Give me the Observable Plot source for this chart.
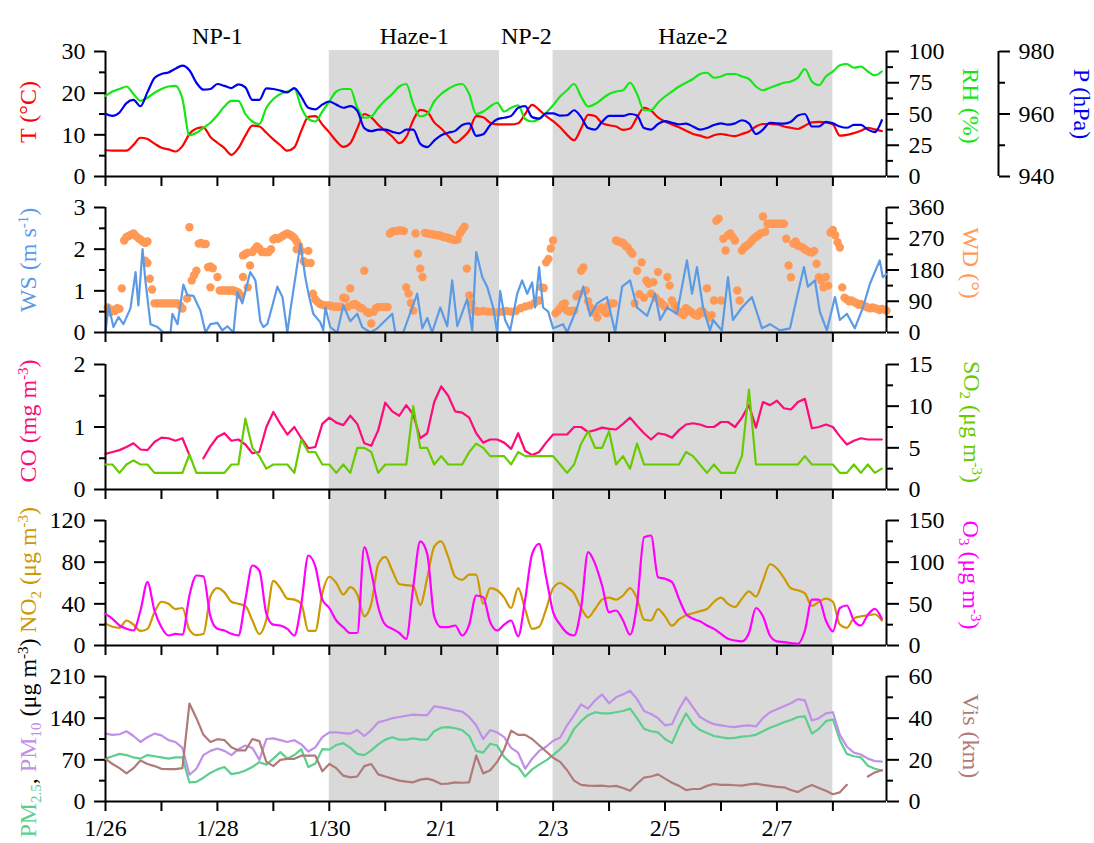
<!DOCTYPE html>
<html>
<head>
<meta charset="utf-8">
<script src="https://cdn.jsdelivr.net/npm/d3@7"></script>
<script src="https://cdn.jsdelivr.net/npm/@observablehq/plot@0.6"></script>
<style>
  body { margin: 0; background: #fff; }
  #chart { position: relative; width: 1094px; height: 843px; overflow: hidden; font-family: "Liberation Serif", "Times New Roman", serif; }
  #chart svg { position: absolute; left: 0; top: 0; }
  .ttl { position: absolute; font-size: 24px; white-space: nowrap; line-height: 1; }
  .ttl sub { font-size: 15px; vertical-align: -0.3em; line-height: 0; }
  .ttl sup { font-size: 15px; vertical-align: 0.55em; line-height: 0; }
</style>
</head>
<body>
<div id="chart"></div>
<script>
// ---------------- DATA ----------------
// sample times: every 3 h from 1/26 00:00 (hour offsets)
const hours = d3.range(0, 336, 3);

const dayLabels = ["1/26","1/27","1/28","1/29","1/30","1/31","2/1","2/2","2/3","2/4","2/5","2/6","2/7","2/8"];
const xTickLabels = ["1/26","1/28","1/30","2/1","2/3","2/5","2/7"];

const periodNames = ["NP-1", "Haze-1", "NP-2", "Haze-2"];
const periodStartHour = [0, 96, 169, 192];
const periodEndHour = [96, 169, 192, 312];

const T = [
6.3, 6.2, 6.2, 6.2, 7.6, 9.3, 9.0, 7.9,
6.9, 6.5, 6.0, 7.3, 10.2, 11.5, 11.8, 9.5,
8.1, 6.8, 5.2, 6.8, 9.8, 12.2, 12.0, 10.5,
8.9, 7.5, 6.2, 7.0, 11.0, 14.3, 14.5, 12.5,
10.6, 8.5, 7.1, 8.0, 11.5, 15.0, 14.2, 12.4,
11.0, 9.6, 8.0, 9.5, 13.5, 16.0, 15.5, 13.0,
11.5, 9.7, 8.1, 9.2, 11.0, 14.5, 14.2, 12.9,
12.5, 12.5, 12.5, 12.8, 15.0, 17.2, 16.0, 14.5,
13.3, 11.8, 10.0, 8.7, 11.5, 14.8, 14.5, 12.8,
12.3, 12.0, 11.2, 11.5, 14.2, 16.5, 15.8, 14.2,
13.2, 12.5, 11.8, 11.0, 10.2, 9.8, 9.3, 9.9,
10.2, 9.9, 9.7, 10.2, 10.8, 12.0, 12.6, 12.6,
12.5, 12.0, 11.7, 11.4, 12.2, 13.0, 13.1, 13.0,
12.5, 9.8, 10.0, 10.4, 11.0, 11.7, 11.3, 10.9];

const RH = [
64.5, 68, 70, 72, 66, 60.5, 63, 67,
70, 72, 72.5, 62, 33, 35, 39, 43,
49, 56, 60.5, 60.5, 50, 44, 42, 55,
62, 66, 68, 70, 55, 46, 44, 52,
60, 68, 70, 70, 55, 47, 48, 55,
61, 66, 72, 74, 58, 48, 50, 60,
66, 70, 73, 74, 66, 50, 52, 56,
59, 52, 55, 57, 46, 44, 46, 51,
57, 64, 69, 74, 64, 56, 58, 62,
66, 68, 69, 75, 66, 53, 53, 59,
64, 68, 72, 75, 78, 82, 83, 79,
80, 82, 82, 80, 78, 72, 69, 71,
73, 75, 76, 79, 86, 76, 73, 80,
84, 89, 90, 87, 88, 84, 81, 84];

const P = [
960.1, 959.4, 960.5, 963.5, 964.5, 962.5, 967, 971.5,
972.8, 973.3, 974.5, 975.5, 974, 970, 967.8, 968,
969.6, 969, 968.3, 969.5, 968.5, 964.5, 964.5, 968.2,
968, 967.5, 966.9, 968.3, 965.5, 962, 961.5, 963,
964, 963, 962, 962.5, 961, 955.5, 954.5, 955,
955, 954.3, 953.8, 955, 955, 950.5, 949.4, 951.5,
953.2, 954, 954.6, 956.5, 957, 953, 953.5, 956.5,
958.3, 958.8, 959.4, 962, 962.5, 959, 958.5, 960.2,
960.2, 959.5, 959.6, 961.2, 959, 955.5, 955, 957.5,
959.4, 959.4, 959.4, 960, 959.5, 955.5, 955, 956.8,
957.7, 957.2, 956.7, 956.9, 956, 955, 955.5, 956.5,
957, 956.6, 957, 958, 957, 953.6, 955, 957.2,
957, 956.9, 957.5, 959.5, 960, 956, 956, 957.5,
957, 956, 955.6, 956.5, 956.5, 955, 954.2, 958];

// wind speed readings (hour offset, m/s)
const wsHour = [0,1.3,3.4,5.6,7.7,10.7,12.9,14.1,15.9,17.1,
19.3,22.3,24.9,27.9,28.7,30.9,33.4,35.1,37.7,40.7,
42.9,45,48,50.1,52.3,54.9,56.6,58.7,62.1,64.3,
66.4,67.7,69.4,71.6,73.7,75.9,78,79.3,83.6,85.7,
87,89.1,92.1,93.4,94.3,96.4,99.4,102,105,108,
110.1,113.6,116.6,123,124.3,127.7,133.7,135.9,138,140.1,
143.6,146.6,148.7,150.9,155.1,157.3,159,161.6,163.7,166.3,
168,169.3,171.4,173.6,176.6,178.7,180.9,183,184.3,186,
187.7,189.9,192,196.3,198,202.3,204.9,207.9,210.9,215.1,
218.6,221.6,225,228,232.3,235.7,237.9,240.9,245.1,249.4,
251.6,253.7,256.3,259.3,260.6,264.4,267,269.1,273,277.3,
281.6,285,289.3,293.6,296.6,299.6,301.3,304.3,306.4,309.4,
312.9,315,318,321.4,324.9,327.9,332.1,333.4,335];
const wsVal = [0,0.65,0.13,0.37,0.2,0.58,1.45,0.65,2.0,1.25,
0.2,0.13,0,0,0.45,0.2,1.15,0.9,0.88,0.53,
0,0.2,0.23,0.05,0.15,0,0.97,0.7,1.45,1.25,
0.27,0.13,0.2,0.65,1.1,0.85,0,0.53,2.13,1.33,
0.95,0.45,0.25,0.05,0.6,0.13,0,0.65,0.27,0.45,
0.13,0,0.1,0.45,0,0,0.93,0.1,0.35,0,
0.6,0.15,1.25,0.15,0.8,0.05,1.93,1.33,1.1,0.6,
0,1.0,0.3,0.05,0.93,1.25,0.93,1.2,0.6,1.57,
0.6,0.5,0.1,0.2,0,0.6,1.1,0.4,0.7,0.85,
0,1.1,1.25,0.6,0.4,0.93,0.3,0.6,0.45,1.73,
0.93,1.57,0.6,0.05,0.3,0.05,1.33,0.3,0.6,0.85,
0.1,0.2,0.05,0.1,0.85,1.57,1.1,1.25,0.5,0.05,
0.85,0.3,0.45,0.1,0.6,1.17,1.73,1.33,1.4];

// wind direction points (hour offset, degrees)
const wdHour = [1,2,3,4,5,6,7,8,9,10,11,12,13,14,15,16,17,17,18,18,19,20,
21,22,23,24,25,26,27,28,29,30,31,32,33,35,36,37,38,39,40,41,42,43,44,45,45,46,48,
49,50,51,52,53,54,55,56,57,58,59,59,60,61,61,62,63,64,65,66,67,68,69,70,71,72,73,74,75,76,77,78,79,80,81,82,82,83,84,85,86,87,88,
89,90,91,92,93,94,95,96,97,98,99,100,101,102,103,104,105,106,107,108,109,110,111,112,113,114,115,116,117,118,119,120,121,
122,123,124,125,126,127,128,129,130,131,132,133,134,135,136,137,138,139,140,141,142,143,144,145,146,147,148,149,150,151,152,153,154,155,156,157,158,
159,160,162,164,166,168,170,172,174,176,178,180,182,184,186,187,188,189,190,191,192,
193,194,195,196,197,198,199,200,201,202,203,204,205,206,207,208,209,210,211,212,213,214,215,216,217,218,
219,220,221,222,223,224,225,226,227,228,229,230,231,232,233,234,235,236,237,238,239,240,241,242,243,244,245,246,247,248,249,250,251,252,253,254,255,256,257,258,259,260,261,262,263,264,265,266,267,268,269,270,271,272,273,274,275,276,277,278,279,280,281,282,283,284,285,286,287,288,289,290,291,292,293,294,295,296,297,298,299,300,301,302,303,304,305,306,307,308,309,310,311,312,313,314,315,316,317,318,319,320,321,322,323,324,325,326,327,328,329,330,331,332,333,334,335];
const wdDeg = [72,58,65,62,70,68,127,265,275,278,282,285,278,272,268,262,207,258,262,200,155,124,
84,84,84,84,84,84,84,84,84,84,84,78,69,98,303,150,165,178,256,258,255,255,188,190,130,185,160,
121,121,121,121,121,121,121,118,115,107,160,222,226,130,230,193,232,240,248,242,232,232,231,232,240,268,272,270,274,278,282,285,282,278,272,262,240,250,235,205,200,235,200,
112,95,88,82,80,78,78,78,76,74,74,74,74,100,98,74,127,80,82,78,72,70,178,60,56,26,60,70,73,73,73,73,73,
285,290,292,292,294,294,292,130,112,85,63,285,227,184,160,287,285,284,283,282,280,280,278,275,274,272,270,268,266,268,285,295,305,184,107,84,63,
62,60,62,60,60,58,60,62,60,62,70,75,78,85,92,130,128,202,212,242,265,
55,62,70,80,84,63,60,62,63,104,110,178,187,121,90,72,65,55,43,68,72,60,55,80,84,84,
265,262,260,258,250,245,235,227,84,178,110,202,100,150,140,112,145,100,174,88,80,75,160,135,92,80,65,60,55,50,70,65,60,55,50,48,60,63,55,127,43,50,92,322,328,92,270,236,280,285,275,265,121,92,236,245,250,255,262,270,275,280,285,334,290,313,313,313,313,313,313,313,313,270,193,159,256,262,250,248,245,240,235,232,230,235,198,159,150,130,160,135,288,295,280,260,245,130,100,95,90,92,88,85,80,82,78,75,72,70,72,70,68,65,68,66,63];

const CO = [
0.57, 0.6, 0.63, 0.68, 0.74, 0.64, 0.63, 0.76,
0.83, 0.82, 0.78, 0.82, 0.55, null, 0.5, 0.69,
0.84, 0.9, 0.78, 0.8, 0.72, 0.58, 0.6, 1.0,
1.24, 1.05, 0.88, 1.0, 0.82, 0.66, 0.68, 1.05,
1.15, 1.07, 1.03, 1.18, 1.05, 0.74, 0.7, 0.95,
1.39, 1.25, 1.18, 1.35, 1.2, 0.82, 0.9, 1.4,
1.65, 1.5, 1.25, 1.23, 1.15, 0.9, 0.75, 0.8,
0.8, 0.75, 0.65, 0.9, 0.62, 0.55, 0.6, 0.75,
0.88, 0.88, 0.88, 1.0, 1.0, 0.92, 0.95, 0.99,
0.97, 0.96, 1.05, 1.15, 1.02, 0.9, 0.8, 0.9,
0.88, 0.83, 0.95, 1.04, 1.06, 1.04, 1.0, 1.0,
1.08, 1.08, 1.0, 1.15, 1.35, 0.99, 1.4, 1.35,
1.42, 1.3, 1.28, 1.4, 1.45, 0.98, 1.0, 1.04,
1.0, 0.85, 0.72, 0.78, 0.82, 0.8, 0.8, 0.8];

const SO2 = [
3, 3, 2, 3, 3.5, 3, 3, 2,
2, 2, 2, 2, 4.2, 2, 2, 2,
2, 2, 3, 3, 8.5, 5, 4, 2.5,
3, 3, 3, 2, 6, 4.5, 4.5, 3,
3, 2, 3, 2, 5, 5, 4.5, 2,
3, 3, 3, 3, 10, 5, 5, 3,
4, 3, 3, 3, 4.5, 5.5, 5, 4,
4, 4, 3, 4.5, 4, 4, 4, 4,
4, 3, 2, 3, 5.5, 7, 5, 5,
7, 3, 4, 2.5, 5.5, 3, 3, 3,
3, 3, 3, 4.5, 4, 3, 2, 3,
2, 2, 2, 4, 12, 3, 3, 3,
3, 3, 3, 3, 4, 3, 3, 3,
3, 2, 2, 3, 2, 3, 2, 2.5];

const NO2 = [
21, 18, 17, 24, 20, 14, 16, 32,
42, 40, 35, 36, 15, 10, 11, 47,
55, 51, 42, 40, 38, 24, 11, 25,
62, 55, 45, 44, 40, 14, 14, 50,
66, 60, 49, 56, 49, 28, 40, 78,
85, 72, 59, 58, 57, 39, 65, 95,
100, 85, 66, 63, 68, 68, 40, 55,
53, 46, 36, 55, 35, 16, 18, 35,
55, 60, 56, 50, 36, 27, 35, 44,
46, 44, 48, 55, 45, 25, 24, 35,
28, 19, 25, 29, 31, 33, 35, 42,
46, 40, 37, 45, 52, 47, 62, 78,
74, 65, 55, 53, 50, 38, 42, 45,
42, 20, 17, 26, 28, 29, 30, 24];

const O3 = [
38, 32, 24, 20, 18, 42, 76, 42,
22, 12, 14, 13, 60, 84, 83, 35,
20, 18, 14, 12, 55, 96, 90, 38,
25, 24, 20, 12, 50, 108, 95, 55,
45, 30, 22, 15, 15, 118, 88, 46,
25, 20, 15, 8, 70, 125, 110, 35,
22, 22, 24, 12, 25, 60, 58, 28,
18, 25, 30, 11, 55, 110, 122, 82,
40, 25, 15, 12, 45, 112, 98, 72,
40, 42, 30, 13, 50, 130, 132, 82,
80, 76, 56, 38, 32, 29, 24, 20,
14, 8, 6, 5, 15, 45, 35, 12,
5, 4, 3, 2, 18, 55, 55, 30,
17, 45, 48, 30, 24, 37, 44, 32];

const PM10 = [
114, 112, 113, 118, 110, 100, 108, 114,
111, 103, 100, 90, 45, 55, 78, 85,
89, 85, 78, 88, 94, 90, 70, 105,
106, 103, 100, 103, 96, 84, 91, 108,
116, 116, 115, 114, 120, 110, 120, 133,
136, 140, 142, 144, 146, 145, 145, 160,
158, 156, 153, 151, 142, 128, 105, 120,
116, 108, 90, 82, 55, 72, 85, 92,
102, 107, 128, 145, 163, 156, 170, 180,
165, 175, 180, 186, 172, 152, 147, 140,
128, 130, 155, 175, 158, 142, 135, 130,
128, 126, 125, 127, 128, 126, 140, 150,
155, 160, 165, 172, 170, 136, 140, 148,
150, 112, 92, 82, 79, 72, 68, 67];

const PM25 = [
72, 76, 80, 78, 74, 72, 78, 76,
74, 72, 74, 74, 32, 33, 40, 48,
54, 58, 46, 48, 52, 58, 66, 62,
72, 83, 72, 78, 88, 58, 64, 88,
87, 95, 98, 90, 80, 78, 86, 96,
104, 108, 104, 104, 106, 104, 104, 118,
124, 125, 123, 120, 110, 85, 82, 97,
94, 75, 64, 58, 42, 54, 62, 69,
78, 88, 100, 122, 135, 145, 150, 148,
148, 150, 152, 156, 140, 122, 118, 116,
105, 98, 125, 148, 130, 120, 115, 110,
108, 106, 107, 109, 110, 112, 118, 124,
128, 133, 137, 142, 143, 114, 122, 135,
138, 103, 80, 76, 74, 60, 55, 52];

const Vis = [
20.5, 18, 16, 13.5, 16, 19.7, 18, 17,
15.7, 15.5, 15.5, 16, 47, 40, 32, 28.6,
29.9, 29.5, 26, 24.5, 24.5, 30, 29, 19,
17, 20, 20.5, 20.5, 22, 22, 22, 14.5,
18, 16, 12.4, 11.6, 12, 17, 18, 13,
12, 11, 10, 9.5, 9.2, 10.5, 11, 10,
8.4, 8.6, 9.2, 9, 9.2, 22, 13.5, 15,
19, 25, 34, 32, 32, 30, 27, 24,
21, 19, 15, 10, 8, 7.6, 7.5, 7.6,
7.2, 7.5, 6.5, 5.2, 8.5, 11.5, 12, 13,
11, 9, 7.5, 5.5, 6, 6, 7.5, 8.4,
8, 8, 7.8, 7.6, 8.2, 8.6, 8, 7.5,
7, 6.8, 5.5, 4.5, 6.5, 7.9, 6.5, 5.2,
3.5, 4.4, 8, null, null, 12, 14, 15];

// ---------------- TABLES ----------------
const start = Date.UTC(2019, 0, 26);
const toDate = h => new Date(start + h * 3600e3);
const rows = hours.map((h, i) => ({
  t: toDate(h), T: T[i], RH: RH[i], P: P[i], CO: CO[i], SO2: SO2[i],
  NO2: NO2[i], O3: O3[i], PM10: PM10[i], PM25: PM25[i], Vis: Vis[i]
}));
const wsRows = wsHour.map((h, i) => ({t: toDate(h), WS: wsVal[i]}));
const wdRows = wdHour.map((h, i) => ({t: toDate(h), deg: wdDeg[i]}));
const periods = periodNames.map((name, i) => ({
  name, x1: toDate(periodStartHour[i]), x2: toDate(periodEndHour[i]),
  mid: toDate((periodStartHour[i] + periodEndHour[i]) / 2)
}));
const hazes = periods.filter(d => d.name.startsWith("Haze"));
const dayDates = dayLabels.map(s => { const [m, d] = s.split("/").map(Number); return new Date(Date.UTC(2019, m - 1, d)); });
const fmtDay = d => { const s = `${d.getUTCMonth() + 1}/${d.getUTCDate()}`; return xTickLabels.includes(s) ? s : ""; };

// ---------------- LAYOUT ----------------
const W = 1094, H = 843, X0 = 105, X1 = 886;
const FONT = '"Liberation Serif", "Times New Roman", serif';
const xDomain = [toDate(0), toDate(335)];
const xScale = {type: "utc", domain: xDomain, range: [X0, X1], axis: null};
const panels = [
  {top: 51, bottom: 176}, {top: 207, bottom: 332}, {top: 364, bottom: 489},
  {top: 520, bottom: 645}, {top: 676, bottom: 801}
];
const chart = document.getElementById("chart");
const styleObj = {background: "transparent", fontFamily: FONT, fontSize: "24px", color: "black", overflow: "visible"};
const plain = d => String(d);

function add(svg) { chart.appendChild(svg); }

function layer(p, yDomain, side, major, minor, marks, xLabels = false) {
  const m = [...marks];
  if (side === "left") {
    m.push(Plot.ruleX([xDomain[0]], {stroke: "black", strokeWidth: 2}));
    m.push(Plot.ruleY([yDomain[0]], {stroke: "black", strokeWidth: 2}));
    m.push(Plot.axisX(dayDates, {anchor: "bottom", tickSize: 10, tickPadding: 7, strokeWidth: 2, label: null,
      tickFormat: xLabels ? fmtDay : () => ""}));
  } else if (side === "right") {
    m.push(Plot.ruleX([xDomain[1]], {stroke: "black", strokeWidth: 2}));
  }
  if (side) {
    m.push(Plot.axisY(major, {anchor: side, tickSize: side === "left" ? 11 : 12, tickPadding: side === "left" ? 9 : 10,
      strokeWidth: 2, label: null, tickFormat: plain}));
    m.push(Plot.axisY(minor, {anchor: side, tickSize: 6, strokeWidth: 2, label: null, tickFormat: () => ""}));
  }
  return Plot.plot({
    width: W, height: H, marginTop: p.top, marginBottom: H - p.bottom, marginLeft: X0, marginRight: W - X1,
    style: styleObj, x: xScale, y: {domain: yDomain, axis: null}, marks: m
  });
}

const line = (key, color, curve = "linear", data = rows) =>
  Plot.line(data, {x: "t", y: key, stroke: color, strokeWidth: 2.2, strokeLinejoin: "round", curve});

// background shading + period labels
add(Plot.plot({
  width: W, height: H, marginTop: 50, marginBottom: H - 801, marginLeft: X0, marginRight: W - X1,
  style: styleObj, x: xScale,
  marks: [
    Plot.barX(hazes, {x1: "x1", x2: "x2", fill: "#d9d9d9"}),
    Plot.text(periods, {x: "mid", text: "name", frameAnchor: "top", dy: -24, fontSize: 24, fill: "black"})
  ]
}));

// Panel 1
const p1 = panels[0];
add(layer(p1, [0, 30], "left", [0, 10, 20, 30], [5, 15, 25], [line("T", "#ff0000", "monotone-x")]));
add(layer(p1, [0, 100], "right", [0, 25, 50, 75, 100], [12.5, 37.5, 62.5, 87.5], [line("RH", "#14e814", "monotone-x")]));
add(layer(p1, [940, 980], null, [], [], [line("P", "#0000f0", "monotone-x")]));
add(Plot.plot({
  width: W, height: H, marginTop: p1.top, marginBottom: H - p1.bottom, marginLeft: X0, marginRight: W - 998,
  style: styleObj, x: {domain: [0, 1], axis: null}, y: {domain: [940, 980], axis: null},
  marks: [
    Plot.ruleX([1], {stroke: "black", strokeWidth: 2}),
    Plot.axisY([940, 960, 980], {anchor: "right", tickSize: 11, tickPadding: 9, strokeWidth: 2, label: null, tickFormat: plain}),
    Plot.axisY([950, 970], {anchor: "right", tickSize: 6, strokeWidth: 2, label: null, tickFormat: () => ""})
  ]
}));

// Panel 2
const p2 = panels[1];
add(layer(p2, [0, 360], "right", [0, 90, 180, 270, 360], [45, 135, 225, 315],
  [Plot.dot(wdRows, {x: "t", y: "deg", r: 4.2, fill: "#ff9955", stroke: "none"})]));
add(layer(p2, [0, 3], "left", [0, 1, 2, 3], [0.5, 1.5, 2.5], [line("WS", "#5b9be6", "linear", wsRows)]));

// Panel 3
const p3 = panels[2];
add(layer(p3, [0, 2], "left", [0, 1, 2], [0.5, 1.5], [line("CO", "#ff0a78")]));
add(layer(p3, [0, 15], "right", [0, 5, 10, 15], [2.5, 7.5, 12.5], [line("SO2", "#66cc00")]));

// Panel 4
const p4 = panels[3];
add(layer(p4, [0, 120], "left", [0, 40, 80, 120], [20, 60, 100], [line("NO2", "#cc9900", "monotone-x")]));
add(layer(p4, [0, 150], "right", [0, 50, 100, 150], [25, 75, 125], [line("O3", "#ff00ff", "monotone-x")]));

// Panel 5
const p5 = panels[4];
add(layer(p5, [0, 210], "left", [0, 70, 140, 210], [35, 105, 175], [line("PM25", "#5ccf8e"), line("PM10", "#c08fe8")], true));
add(layer(p5, [0, 60], "right", [0, 20, 40, 60], [10, 30, 50], [line("Vis", "#b07a78")]));

// ---------------- AXIS TITLES ----------------
function title(html, cx, cy, rot, color) {
  const d = document.createElement("div");
  d.className = "ttl";
  d.innerHTML = html;
  d.style.left = cx + "px";
  d.style.top = cy + "px";
  d.style.color = color;
  d.style.transform = `translate(-50%, -50%) rotate(${rot}deg)`;
  chart.appendChild(d);
}
title("T (°C)", 28, 112, -90, "#ff0000");
title("RH (%)", 971, 106, 90, "#14e814");
title("P (hPa)", 1082, 104, 90, "#0000f0");
title("WS (m s<sup>-1</sup>)", 28, 260, -90, "#5b9be6");
title("WD (°)", 971, 263, 90, "#ff9955");
title("CO (mg m<sup>-3</sup>)", 28, 421, -90, "#ff0a78");
title("SO<sub>2</sub> (μg m<sup>-3</sup>)", 972, 422, 90, "#66cc00");
title("NO<sub>2</sub> (μg m<sup>-3</sup>)", 28, 570, -90, "#cc9900");
title("O<sub>3</sub> (μg m<sup>-3</sup>)", 971, 575, 90, "#ff00ff");
title('<span style="color:#5ccf8e">PM<sub>2.5</sub></span>, <span style="color:#c08fe8">PM<sub>10</sub></span> (μg m<sup>-3</sup>)', 28, 738, -90, "#000");
title("Vis (km)", 971, 736, 90, "#b07a78");
</script>
</body>
</html>
